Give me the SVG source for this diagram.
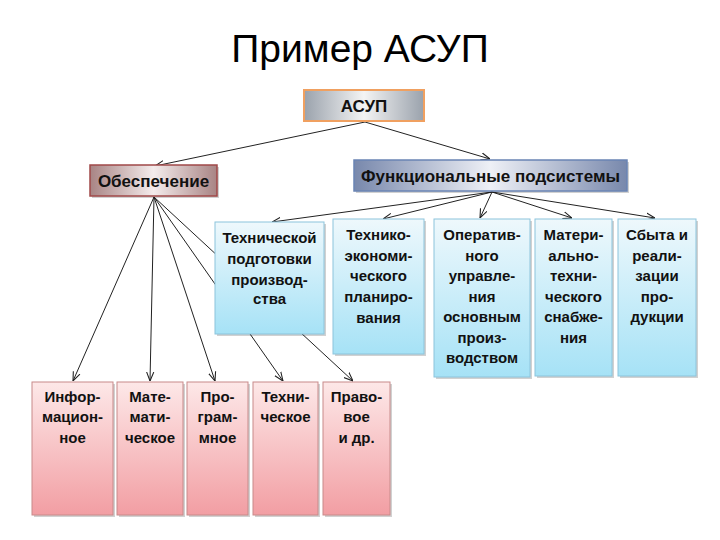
<svg xmlns="http://www.w3.org/2000/svg" width="720" height="540" viewBox="0 0 720 540">
<defs>
<linearGradient id="gBlue" x1="0" y1="0" x2="0" y2="1"><stop offset="0" stop-color="#eef8fc"/><stop offset="1" stop-color="#a6e2f6"/></linearGradient>
<linearGradient id="gPink" x1="0" y1="0" x2="0" y2="1"><stop offset="0" stop-color="#fde8e8"/><stop offset="1" stop-color="#f29ea3"/></linearGradient>
<linearGradient id="gGray" x1="0" y1="0" x2="1" y2="0"><stop offset="0" stop-color="#9aa2ac"/><stop offset="0.5" stop-color="#f4f4f4"/><stop offset="1" stop-color="#9aa2ac"/></linearGradient>
<linearGradient id="gRose" x1="0" y1="0" x2="1" y2="0"><stop offset="0" stop-color="#a88484"/><stop offset="0.5" stop-color="#f4ecec"/><stop offset="1" stop-color="#a88484"/></linearGradient>
<linearGradient id="gSteel" x1="0" y1="0" x2="1" y2="0"><stop offset="0" stop-color="#7888ac"/><stop offset="0.5" stop-color="#eef0f6"/><stop offset="1" stop-color="#7888ac"/></linearGradient>
<marker id="arr" viewBox="0 0 10 10" refX="10" refY="5" markerWidth="9" markerHeight="9" orient="auto" markerUnits="userSpaceOnUse"><path d="M0,1 L10,5 L0,9" fill="none" stroke="#222" stroke-width="1.2"/></marker>
</defs>
<style>
text{font-family:"Liberation Sans",Arial,sans-serif;font-weight:bold;font-size:15px;fill:#111;text-anchor:middle}
.big{font-size:17px}
.title{font-weight:normal;font-size:39px;fill:#000}
.blue{fill:url(#gBlue);stroke:#8cc4dc;stroke-width:1}
.pink{fill:url(#gPink);stroke:#c88a8a;stroke-width:1}
.sh{fill:#000;opacity:0.18}
.conn line{stroke:#222;stroke-width:1;marker-end:url(#arr)}
</style>
<rect width="720" height="540" fill="#fff"/>
<text class="title" x="360" y="62">Пример АСУП</text>

<g id="connectors" class="conn">
<line x1="365" y1="122" x2="155" y2="166"/>
<line x1="365" y1="122" x2="490" y2="159"/>
<line x1="492" y1="192" x2="272" y2="222"/>
<line x1="492" y1="192" x2="383" y2="219"/>
<line x1="492" y1="192" x2="480" y2="218"/>
<line x1="492" y1="192" x2="572" y2="218"/>
<line x1="492" y1="192" x2="655" y2="218"/>
<line x1="154" y1="197" x2="73" y2="381"/>
<line x1="154" y1="197" x2="150" y2="381"/>
<line x1="154" y1="197" x2="215" y2="381"/>
<line x1="154" y1="197" x2="283" y2="381"/>
<line x1="154" y1="197" x2="353" y2="381"/>
</g>

<g id="asup">
<rect x="304" y="90" width="120" height="31" fill="url(#gGray)" stroke="#f0a060" stroke-width="2"/>
<text class="big" x="364" y="112">АСУП</text>
</g>
<g id="obespechenie">
<rect x="92" y="167" width="127" height="31" class="sh"/>
<rect x="90" y="165" width="127" height="31" fill="url(#gRose)" stroke="#a04848" stroke-width="1.5"/>
<text class="big" x="153.5" y="187">Обеспечение</text>
</g>
<g id="funkc">
<rect x="356" y="162" width="273" height="31" class="sh"/>
<rect x="354" y="160" width="273" height="31" fill="url(#gSteel)" stroke="#6a84b4" stroke-width="1.5"/>
<text class="big" x="490.5" y="182">Функциональные подсистемы</text>
</g>

<g id="b1">
<rect x="217" y="224" width="109" height="112" class="sh"/>
<rect x="215" y="222" width="109" height="112" class="blue"/>
<text x="269.5" y="243">Технической</text>
<text x="269.5" y="264">подготовки</text>
<text x="269.5" y="285">производ-</text>
<text x="269.5" y="304">ства</text>
</g>
<g id="b2">
<rect x="335" y="221" width="91" height="135" class="sh"/>
<rect x="333" y="219" width="91" height="135" class="blue"/>
<text x="378.5" y="240">Технико-</text>
<text x="378.5" y="261">экономи-</text>
<text x="378.5" y="281">ческого</text>
<text x="378.5" y="302">планиро-</text>
<text x="378.5" y="323">вания</text>
</g>
<g id="b3">
<rect x="436" y="221" width="96" height="158" class="sh"/>
<rect x="434" y="219" width="96" height="158" class="blue"/>
<text x="482" y="240">Оператив-</text>
<text x="482" y="261">ного</text>
<text x="482" y="281">управле-</text>
<text x="482" y="302">ния</text>
<text x="482" y="322">основным</text>
<text x="482" y="343">произ-</text>
<text x="482" y="363">водством</text>
</g>
<g id="b4">
<rect x="537" y="221" width="77" height="157" class="sh"/>
<rect x="535" y="219" width="77" height="157" class="blue"/>
<text x="573.5" y="240">Матери-</text>
<text x="573.5" y="261">ально-</text>
<text x="573.5" y="281">техни-</text>
<text x="573.5" y="302">ческого</text>
<text x="573.5" y="322">снабже-</text>
<text x="573.5" y="343">ния</text>
</g>
<g id="b5">
<rect x="620" y="221" width="78" height="157" class="sh"/>
<rect x="618" y="219" width="78" height="157" class="blue"/>
<text x="657" y="240">Сбыта и</text>
<text x="657" y="261">реали-</text>
<text x="657" y="281">зации</text>
<text x="657" y="302">про-</text>
<text x="657" y="322">дукции</text>
</g>

<g id="p1">
<rect x="34" y="384" width="81" height="133" class="sh"/>
<rect x="32" y="382" width="81" height="133" class="pink"/>
<text x="72.5" y="402">Инфор-</text>
<text x="72.5" y="422">мацион-</text>
<text x="72.5" y="443">ное</text>
</g>
<g id="p2">
<rect x="119" y="384" width="66" height="133" class="sh"/>
<rect x="117" y="382" width="66" height="133" class="pink"/>
<text x="150" y="402">Мате-</text>
<text x="150" y="422">мати-</text>
<text x="150" y="443">ческое</text>
</g>
<g id="p3">
<rect x="189" y="384" width="61" height="133" class="sh"/>
<rect x="187" y="382" width="61" height="133" class="pink"/>
<text x="217.5" y="402">Про-</text>
<text x="217.5" y="422">грам-</text>
<text x="217.5" y="443">мное</text>
</g>
<g id="p4">
<rect x="255" y="384" width="65" height="133" class="sh"/>
<rect x="253" y="382" width="65" height="133" class="pink"/>
<text x="285.5" y="402">Техни-</text>
<text x="285.5" y="422">ческое</text>
</g>
<g id="p5">
<rect x="325" y="384" width="67" height="133" class="sh"/>
<rect x="323" y="382" width="67" height="133" class="pink"/>
<text x="356.5" y="402">Право-</text>
<text x="356.5" y="422">вое</text>
<text x="356.5" y="443">и др.</text>
</g>
</svg>
